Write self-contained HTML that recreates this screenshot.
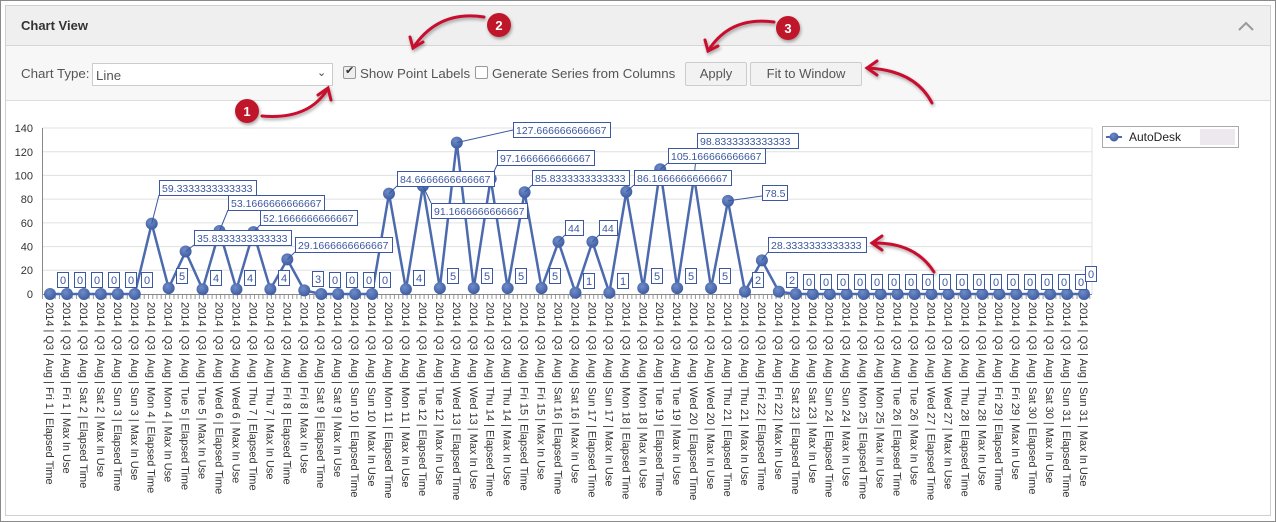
<!DOCTYPE html>
<html><head><meta charset="utf-8"><style>
body{margin:0;width:1276px;height:522px;background:#fff;font-family:"Liberation Sans",sans-serif;overflow:hidden;position:relative}
.outer{position:absolute;left:0;top:0;width:1274px;height:520px;border:1px solid #8a8a8a}
.panel{position:absolute;left:5px;top:5px;width:1264px;height:509px;border:1px solid #d0d0d0;background:#fff}
.hdr{position:absolute;left:0;top:0;width:1264px;height:39px;background:#efefef;border-bottom:1px solid #d6d6d6}
.hdr b{position:absolute;left:15px;top:12px;font-size:13px;color:#333}
.tb{position:absolute;left:0;top:40px;width:1264px;height:54px;background:#f7f7f7;border-bottom:1px solid #dcdcdc;font-size:13.3px;color:#555}
.abs{position:absolute}
.btn{position:absolute;top:16px;height:22px;border:1px solid #ccc;border-radius:2px;background:#f2f2f2;font-size:13px;color:#555;text-align:center;line-height:22px}
.cb{position:absolute;top:20px;width:11px;height:11px;border:1px solid #999;background:#fff;border-radius:2px}
svg{position:absolute;left:0;top:0}
</style></head><body>
<div class="outer"></div>
<div class="panel">
<div class="hdr"><b>Chart View</b>
<svg style="left:1232px;top:14px" width="18" height="12"><path d="M1,10 L8,3 L15,10" fill="none" stroke="#999" stroke-width="2"/></svg></div>
<div class="tb">
<div class="abs" style="left:15px;top:20px">Chart Type:</div>
<div class="abs" style="left:86px;top:17px;width:239px;height:21px;border:1px solid #ccc;background:#fff"><span class="abs" style="left:3px;top:4px">Line</span><span class="abs" style="left:224px;top:2px;font-size:11px;color:#444">&#8964;</span></div>
<div class="cb" style="left:337px;background:#eee"><span class="abs" style="left:1px;top:-3px;font-size:11px;color:#333">&#10004;</span></div>
<div class="abs" style="left:354px;top:20px">Show Point Labels</div>
<div class="cb" style="left:469px"></div>
<div class="abs" style="left:486px;top:20px">Generate Series from Columns</div>
<div class="btn" style="left:679px;width:60px">Apply</div>
<div class="btn" style="left:744px;width:110px">Fit to Window</div>
</div>
</div>
<svg width="1276" height="522" font-family="Liberation Sans, sans-serif">
<defs><radialGradient id="g" cx="0.4" cy="0.35" r="0.7"><stop offset="0" stop-color="#6f8cc8"/><stop offset="1" stop-color="#3b5a9e"/></radialGradient>
<filter id="sh"><feDropShadow dx="1" dy="2" stdDeviation="1.5" flood-color="#000" flood-opacity="0.35"/></filter></defs>
<g stroke="#e0e0e0" stroke-width="1">
<line x1="42" y1="270.3" x2="1092" y2="270.3"/><line x1="42" y1="246.6" x2="1092" y2="246.6"/><line x1="42" y1="222.9" x2="1092" y2="222.9"/><line x1="42" y1="199.1" x2="1092" y2="199.1"/><line x1="42" y1="175.4" x2="1092" y2="175.4"/><line x1="42" y1="151.7" x2="1092" y2="151.7"/><line x1="42" y1="128" x2="1092" y2="128"/>
<line x1="1092" y1="128" x2="1092" y2="294"/></g>
<g stroke="#888"><line x1="42.5" y1="128" x2="42.5" y2="295"/><line x1="42" y1="294.5" x2="1092" y2="294.5"/></g>
<g stroke="#999"><line x1="42" y1="297" x2="1092" y2="297" stroke-width="4" stroke-dasharray="1,3.24"/></g>
<g font-size="11" fill="#333" text-anchor="end">
<text x="33" y="298">0</text><text x="33" y="274">20</text><text x="33" y="250.5">40</text><text x="33" y="227">60</text><text x="33" y="203">80</text><text x="33" y="179.5">100</text><text x="33" y="156">120</text><text x="33" y="132">140</text></g>
<polyline fill="none" stroke="#4c6aae" stroke-width="2.5" points="50,294 66.95,294 83.9,294 100.85,294 117.8,294 134.75,294 151.7,223.6 168.65,288.1 185.6,251.5 202.55,289.3 219.5,231 236.45,289.3 253.4,232.1 270.35,289.3 287.3,259.4 304.25,290.4 321.2,294 338.15,294 355.1,294 372.05,294 389,193.6 405.95,289.3 422.9,185.9 439.85,288.1 456.8,142.6 473.75,288.1 490.7,178.8 507.65,288.1 524.6,192.2 541.55,288.1 558.5,241.8 575.45,292.8 592.4,241.8 609.35,292.8 626.3,191.8 643.25,288.1 660.2,169.3 677.15,288.1 694.1,176.8 711.05,288.1 728,200.9 744.95,291.6 761.9,260.4 778.85,291.6 795.8,294 812.75,294 829.7,294 846.65,294 863.6,294 880.55,294 897.5,294 914.45,294 931.4,294 948.35,294 965.3,294 982.25,294 999.2,294 1016.15,294 1033.1,294 1050.05,294 1067,294 1083.95,294"/>
<g fill="url(#g)">
<circle cx="50" cy="294" r="6"/><circle cx="66.95" cy="294" r="6"/><circle cx="83.9" cy="294" r="6"/><circle cx="100.85" cy="294" r="6"/><circle cx="117.8" cy="294" r="6"/><circle cx="134.75" cy="294" r="6"/><circle cx="151.7" cy="223.6" r="6"/><circle cx="168.65" cy="288.1" r="6"/><circle cx="185.6" cy="251.5" r="6"/><circle cx="202.55" cy="289.3" r="6"/><circle cx="219.5" cy="231" r="6"/><circle cx="236.45" cy="289.3" r="6"/><circle cx="253.4" cy="232.1" r="6"/><circle cx="270.35" cy="289.3" r="6"/><circle cx="287.3" cy="259.4" r="6"/><circle cx="304.25" cy="290.4" r="6"/><circle cx="321.2" cy="294" r="6"/><circle cx="338.15" cy="294" r="6"/><circle cx="355.1" cy="294" r="6"/><circle cx="372.05" cy="294" r="6"/><circle cx="389" cy="193.6" r="6"/><circle cx="405.95" cy="289.3" r="6"/><circle cx="422.9" cy="185.9" r="6"/><circle cx="439.85" cy="288.1" r="6"/><circle cx="456.8" cy="142.6" r="6"/><circle cx="473.75" cy="288.1" r="6"/><circle cx="490.7" cy="178.8" r="6"/><circle cx="507.65" cy="288.1" r="6"/><circle cx="524.6" cy="192.2" r="6"/><circle cx="541.55" cy="288.1" r="6"/><circle cx="558.5" cy="241.8" r="6"/><circle cx="575.45" cy="292.8" r="6"/><circle cx="592.4" cy="241.8" r="6"/><circle cx="609.35" cy="292.8" r="6"/><circle cx="626.3" cy="191.8" r="6"/><circle cx="643.25" cy="288.1" r="6"/><circle cx="660.2" cy="169.3" r="6"/><circle cx="677.15" cy="288.1" r="6"/><circle cx="694.1" cy="176.8" r="6"/><circle cx="711.05" cy="288.1" r="6"/><circle cx="728" cy="200.9" r="6"/><circle cx="744.95" cy="291.6" r="6"/><circle cx="761.9" cy="260.4" r="6"/><circle cx="778.85" cy="291.6" r="6"/><circle cx="795.8" cy="294" r="6"/><circle cx="812.75" cy="294" r="6"/><circle cx="829.7" cy="294" r="6"/><circle cx="846.65" cy="294" r="6"/><circle cx="863.6" cy="294" r="6"/><circle cx="880.55" cy="294" r="6"/><circle cx="897.5" cy="294" r="6"/><circle cx="914.45" cy="294" r="6"/><circle cx="931.4" cy="294" r="6"/><circle cx="948.35" cy="294" r="6"/><circle cx="965.3" cy="294" r="6"/><circle cx="982.25" cy="294" r="6"/><circle cx="999.2" cy="294" r="6"/><circle cx="1016.15" cy="294" r="6"/><circle cx="1033.1" cy="294" r="6"/><circle cx="1050.05" cy="294" r="6"/><circle cx="1067" cy="294" r="6"/><circle cx="1083.95" cy="294" r="6"/>
</g>
<g stroke="#3c58a0" stroke-width="1">
<line x1="151.7" y1="223.6" x2="159" y2="195"/><line x1="185.6" y1="251.5" x2="194" y2="245"/><line x1="219.5" y1="231" x2="228" y2="210"/><line x1="253.4" y1="232.1" x2="260" y2="225"/><line x1="287.3" y1="259.4" x2="295" y2="252"/>
<line x1="389" y1="193.6" x2="397" y2="186"/><line x1="422.9" y1="185.9" x2="431" y2="203"/><line x1="456.8" y1="142.6" x2="513" y2="130"/><line x1="490.7" y1="178.8" x2="497" y2="165"/><line x1="524.6" y1="192.2" x2="532" y2="185"/>
<line x1="626.3" y1="191.8" x2="634" y2="185"/><line x1="660.2" y1="169.3" x2="668" y2="163"/><line x1="694.1" y1="176.8" x2="697" y2="148"/><line x1="728" y1="200.9" x2="762" y2="196"/><line x1="761.9" y1="260.4" x2="768" y2="252"/>
<line x1="558.5" y1="241.8" x2="565" y2="235"/><line x1="592.4" y1="241.8" x2="599" y2="235"/>
</g>
<g fill="#fff" stroke="#3c58a0" stroke-width="1">
<rect x="159.5" y="180.5" width="97" height="15"/><rect x="228.5" y="195.5" width="96" height="15"/><rect x="260.5" y="210.5" width="97" height="15"/><rect x="194.5" y="230.5" width="97" height="15"/><rect x="295.5" y="237.5" width="97" height="15"/>
<rect x="397.5" y="171.5" width="97" height="15"/><rect x="431.5" y="203.5" width="96" height="15"/><rect x="513.5" y="122.5" width="97" height="15"/><rect x="497.5" y="150.5" width="97" height="15"/><rect x="532.5" y="170.5" width="97" height="15"/>
<rect x="634.5" y="170.5" width="97" height="15"/><rect x="668.5" y="148.5" width="97" height="15"/><rect x="697.5" y="133.5" width="101" height="15"/><rect x="762.5" y="185.5" width="25" height="15"/><rect x="768.5" y="237.5" width="98" height="15"/>
<rect x="565.5" y="220.5" width="18" height="15"/><rect x="599.5" y="220.5" width="18" height="15"/>
</g>
<g font-size="10.5" fill="#3c58a0">
<text x="162" y="192">59.3333333333333</text><text x="231" y="207">53.1666666666667</text><text x="263" y="222">52.1666666666667</text><text x="197" y="242">35.8333333333333</text><text x="298" y="249">29.1666666666667</text>
<text x="400" y="183">84.6666666666667</text><text x="434" y="215">91.1666666666667</text><text x="516" y="134">127.666666666667</text><text x="500" y="162">97.1666666666667</text><text x="535" y="182">85.8333333333333</text>
<text x="637" y="182">86.1666666666667</text><text x="671" y="160">105.166666666667</text><text x="700" y="145">98.8333333333333</text><text x="765" y="197">78.5</text><text x="771" y="249">28.3333333333333</text>
<text x="568" y="232">44</text><text x="602" y="232">44</text>
</g>
<g stroke="#3c58a0" stroke-width="1" fill="#fff">
<rect x="57.5" y="272.5" width="11" height="15"/><rect x="74.5" y="272.5" width="11" height="15"/><rect x="91.5" y="272.5" width="11" height="15"/><rect x="108.5" y="272.5" width="11" height="15"/><rect x="125.5" y="272.5" width="11" height="15"/><rect x="141.5" y="272.5" width="11" height="15"/>
<rect x="176.5" y="268.5" width="11" height="15"/><rect x="210.5" y="270.5" width="11" height="15"/><rect x="244.5" y="270.5" width="11" height="15"/><rect x="278.5" y="270.5" width="11" height="15"/><rect x="312.5" y="271.5" width="11" height="15"/>
<rect x="329.5" y="272.5" width="11" height="15"/><rect x="346.5" y="272.5" width="11" height="15"/><rect x="363.5" y="272.5" width="11" height="15"/><rect x="379.5" y="272.5" width="11" height="15"/>
<rect x="413.5" y="270.5" width="11" height="15"/><rect x="447.5" y="268.5" width="11" height="15"/><rect x="481.5" y="268.5" width="11" height="15"/><rect x="515.5" y="268.5" width="11" height="15"/><rect x="549.5" y="268.5" width="11" height="15"/>
<rect x="583.5" y="273.5" width="11" height="15"/><rect x="617.5" y="273.5" width="11" height="15"/><rect x="651.5" y="268.5" width="11" height="15"/><rect x="685.5" y="268.5" width="11" height="15"/><rect x="719.5" y="268.5" width="11" height="15"/><rect x="752.5" y="272.5" width="11" height="15"/><rect x="786.5" y="272.5" width="11" height="15"/>
<rect x="803.5" y="274.5" width="11" height="15"/><rect x="820.5" y="274.5" width="11" height="15"/><rect x="837.5" y="274.5" width="11" height="15"/><rect x="854.5" y="274.5" width="11" height="15"/><rect x="871.5" y="274.5" width="11" height="15"/><rect x="888.5" y="274.5" width="11" height="15"/><rect x="905.5" y="274.5" width="11" height="15"/><rect x="922.5" y="274.5" width="11" height="15"/><rect x="939.5" y="274.5" width="11" height="15"/><rect x="956.5" y="274.5" width="11" height="15"/><rect x="973.5" y="274.5" width="11" height="15"/><rect x="990.5" y="274.5" width="11" height="15"/><rect x="1007.5" y="274.5" width="11" height="15"/><rect x="1024.5" y="274.5" width="11" height="15"/><rect x="1041.5" y="274.5" width="11" height="15"/><rect x="1058.5" y="274.5" width="11" height="15"/><rect x="1075.5" y="274.5" width="11" height="15"/><rect x="1085.5" y="266.5" width="11" height="15"/>
</g>
<g font-size="11" fill="#3c58a0">
<text x="60" y="284">0</text><text x="77" y="284">0</text><text x="94" y="284">0</text><text x="111" y="284">0</text><text x="128" y="284">0</text><text x="144" y="284">0</text>
<text x="179" y="280">5</text><text x="213" y="282">4</text><text x="247" y="282">4</text><text x="281" y="282">4</text><text x="315" y="283">3</text>
<text x="332" y="284">0</text><text x="349" y="284">0</text><text x="366" y="284">0</text><text x="382" y="284">0</text>
<text x="416" y="282">4</text><text x="450" y="280">5</text><text x="484" y="280">5</text><text x="518" y="280">5</text><text x="552" y="280">5</text>
<text x="586" y="285">1</text><text x="620" y="285">1</text><text x="654" y="280">5</text><text x="688" y="280">5</text><text x="722" y="280">5</text><text x="755" y="284">2</text><text x="789" y="284">2</text>
<text x="806" y="286">0</text><text x="823" y="286">0</text><text x="840" y="286">0</text><text x="857" y="286">0</text><text x="874" y="286">0</text><text x="891" y="286">0</text><text x="908" y="286">0</text><text x="925" y="286">0</text><text x="942" y="286">0</text><text x="959" y="286">0</text><text x="976" y="286">0</text><text x="993" y="286">0</text><text x="1010" y="286">0</text><text x="1027" y="286">0</text><text x="1044" y="286">0</text><text x="1061" y="286">0</text><text x="1078" y="286">0</text><text x="1088" y="278">0</text>
</g>
<g font-size="11" fill="#333">
<text transform="translate(46,302) rotate(90)">2014 | Q3 | Aug | Fri 1 | Elapsed Time</text>
<text transform="translate(62.95,302) rotate(90)">2014 | Q3 | Aug | Fri 1 | Max In Use</text>
<text transform="translate(79.9,302) rotate(90)">2014 | Q3 | Aug | Sat 2 | Elapsed Time</text>
<text transform="translate(96.85,302) rotate(90)">2014 | Q3 | Aug | Sat 2 | Max In Use</text>
<text transform="translate(113.8,302) rotate(90)">2014 | Q3 | Aug | Sun 3 | Elapsed Time</text>
<text transform="translate(130.75,302) rotate(90)">2014 | Q3 | Aug | Sun 3 | Max In Use</text>
<text transform="translate(147.7,302) rotate(90)">2014 | Q3 | Aug | Mon 4 | Elapsed Time</text>
<text transform="translate(164.65,302) rotate(90)">2014 | Q3 | Aug | Mon 4 | Max In Use</text>
<text transform="translate(181.6,302) rotate(90)">2014 | Q3 | Aug | Tue 5 | Elapsed Time</text>
<text transform="translate(198.55,302) rotate(90)">2014 | Q3 | Aug | Tue 5 | Max In Use</text>
<text transform="translate(215.5,302) rotate(90)">2014 | Q3 | Aug | Wed 6 | Elapsed Time</text>
<text transform="translate(232.45,302) rotate(90)">2014 | Q3 | Aug | Wed 6 | Max In Use</text>
<text transform="translate(249.4,302) rotate(90)">2014 | Q3 | Aug | Thu 7 | Elapsed Time</text>
<text transform="translate(266.35,302) rotate(90)">2014 | Q3 | Aug | Thu 7 | Max In Use</text>
<text transform="translate(283.3,302) rotate(90)">2014 | Q3 | Aug | Fri 8 | Elapsed Time</text>
<text transform="translate(300.25,302) rotate(90)">2014 | Q3 | Aug | Fri 8 | Max In Use</text>
<text transform="translate(317.2,302) rotate(90)">2014 | Q3 | Aug | Sat 9 | Elapsed Time</text>
<text transform="translate(334.15,302) rotate(90)">2014 | Q3 | Aug | Sat 9 | Max In Use</text>
<text transform="translate(351.1,302) rotate(90)">2014 | Q3 | Aug | Sun 10 | Elapsed Time</text>
<text transform="translate(368.05,302) rotate(90)">2014 | Q3 | Aug | Sun 10 | Max In Use</text>
<text transform="translate(385,302) rotate(90)">2014 | Q3 | Aug | Mon 11 | Elapsed Time</text>
<text transform="translate(401.95,302) rotate(90)">2014 | Q3 | Aug | Mon 11 | Max In Use</text>
<text transform="translate(418.9,302) rotate(90)">2014 | Q3 | Aug | Tue 12 | Elapsed Time</text>
<text transform="translate(435.85,302) rotate(90)">2014 | Q3 | Aug | Tue 12 | Max In Use</text>
<text transform="translate(452.8,302) rotate(90)">2014 | Q3 | Aug | Wed 13 | Elapsed Time</text>
<text transform="translate(469.75,302) rotate(90)">2014 | Q3 | Aug | Wed 13 | Max In Use</text>
<text transform="translate(486.7,302) rotate(90)">2014 | Q3 | Aug | Thu 14 | Elapsed Time</text>
<text transform="translate(503.65,302) rotate(90)">2014 | Q3 | Aug | Thu 14 | Max In Use</text>
<text transform="translate(520.6,302) rotate(90)">2014 | Q3 | Aug | Fri 15 | Elapsed Time</text>
<text transform="translate(537.55,302) rotate(90)">2014 | Q3 | Aug | Fri 15 | Max In Use</text>
<text transform="translate(554.5,302) rotate(90)">2014 | Q3 | Aug | Sat 16 | Elapsed Time</text>
<text transform="translate(571.45,302) rotate(90)">2014 | Q3 | Aug | Sat 16 | Max In Use</text>
<text transform="translate(588.4,302) rotate(90)">2014 | Q3 | Aug | Sun 17 | Elapsed Time</text>
<text transform="translate(605.35,302) rotate(90)">2014 | Q3 | Aug | Sun 17 | Max In Use</text>
<text transform="translate(622.3,302) rotate(90)">2014 | Q3 | Aug | Mon 18 | Elapsed Time</text>
<text transform="translate(639.25,302) rotate(90)">2014 | Q3 | Aug | Mon 18 | Max In Use</text>
<text transform="translate(656.2,302) rotate(90)">2014 | Q3 | Aug | Tue 19 | Elapsed Time</text>
<text transform="translate(673.15,302) rotate(90)">2014 | Q3 | Aug | Tue 19 | Max In Use</text>
<text transform="translate(690.1,302) rotate(90)">2014 | Q3 | Aug | Wed 20 | Elapsed Time</text>
<text transform="translate(707.05,302) rotate(90)">2014 | Q3 | Aug | Wed 20 | Max In Use</text>
<text transform="translate(724,302) rotate(90)">2014 | Q3 | Aug | Thu 21 | Elapsed Time</text>
<text transform="translate(740.95,302) rotate(90)">2014 | Q3 | Aug | Thu 21 | Max In Use</text>
<text transform="translate(757.9,302) rotate(90)">2014 | Q3 | Aug | Fri 22 | Elapsed Time</text>
<text transform="translate(774.85,302) rotate(90)">2014 | Q3 | Aug | Fri 22 | Max In Use</text>
<text transform="translate(791.8,302) rotate(90)">2014 | Q3 | Aug | Sat 23 | Elapsed Time</text>
<text transform="translate(808.75,302) rotate(90)">2014 | Q3 | Aug | Sat 23 | Max In Use</text>
<text transform="translate(825.7,302) rotate(90)">2014 | Q3 | Aug | Sun 24 | Elapsed Time</text>
<text transform="translate(842.65,302) rotate(90)">2014 | Q3 | Aug | Sun 24 | Max In Use</text>
<text transform="translate(859.6,302) rotate(90)">2014 | Q3 | Aug | Mon 25 | Elapsed Time</text>
<text transform="translate(876.55,302) rotate(90)">2014 | Q3 | Aug | Mon 25 | Max In Use</text>
<text transform="translate(893.5,302) rotate(90)">2014 | Q3 | Aug | Tue 26 | Elapsed Time</text>
<text transform="translate(910.45,302) rotate(90)">2014 | Q3 | Aug | Tue 26 | Max In Use</text>
<text transform="translate(927.4,302) rotate(90)">2014 | Q3 | Aug | Wed 27 | Elapsed Time</text>
<text transform="translate(944.35,302) rotate(90)">2014 | Q3 | Aug | Wed 27 | Max In Use</text>
<text transform="translate(961.3,302) rotate(90)">2014 | Q3 | Aug | Thu 28 | Elapsed Time</text>
<text transform="translate(978.25,302) rotate(90)">2014 | Q3 | Aug | Thu 28 | Max In Use</text>
<text transform="translate(995.2,302) rotate(90)">2014 | Q3 | Aug | Fri 29 | Elapsed Time</text>
<text transform="translate(1012.15,302) rotate(90)">2014 | Q3 | Aug | Fri 29 | Max In Use</text>
<text transform="translate(1029.1,302) rotate(90)">2014 | Q3 | Aug | Sat 30 | Elapsed Time</text>
<text transform="translate(1046.05,302) rotate(90)">2014 | Q3 | Aug | Sat 30 | Max In Use</text>
<text transform="translate(1063,302) rotate(90)">2014 | Q3 | Aug | Sun 31 | Elapsed Time</text>
<text transform="translate(1079.95,302) rotate(90)">2014 | Q3 | Aug | Sun 31 | Max In Use</text>
</g>
<rect x="1102.5" y="126.5" width="136" height="21" fill="#fff" stroke="#aaa"/>
<rect x="1200" y="129" width="35" height="16" fill="#ece8ee"/>
<line x1="1106" y1="137" x2="1122" y2="137" stroke="#4c6aae" stroke-width="2"/><circle cx="1114" cy="137" r="4.5" fill="url(#g)"/>
<text x="1129" y="141" font-size="12" fill="#222">AutoDesk</text>
<g fill="none" stroke="#c8102e" stroke-width="3" stroke-linecap="round" filter="url(#sh)">
<path d="M262,116 Q308,120 327,90"/><path d="M318,95 L328,88 L331,100"/>
<path d="M484,17 Q438,10 413,48"/><path d="M410,37 L413,48 L423,42"/>
<path d="M774,22 Q730,16 708,51"/><path d="M705,40 L708,51 L718,46"/>
<path d="M932,103 Q915,70 867,68"/><path d="M877,61 L867,68 L877,75"/>
<path d="M934,272 Q915,242 872,243"/><path d="M882,236 L872,243 L882,250"/>
</g>
<g filter="url(#sh)"><circle cx="247" cy="111" r="12" fill="#c0142c"/><circle cx="499" cy="25" r="12" fill="#c0142c"/><circle cx="788" cy="28" r="12" fill="#c0142c"/></g>
<g fill="#fff" font-weight="bold" font-size="13" text-anchor="middle"><text x="247" y="116">1</text><text x="499" y="30">2</text><text x="788" y="33">3</text></g>
</svg>
</body></html>
